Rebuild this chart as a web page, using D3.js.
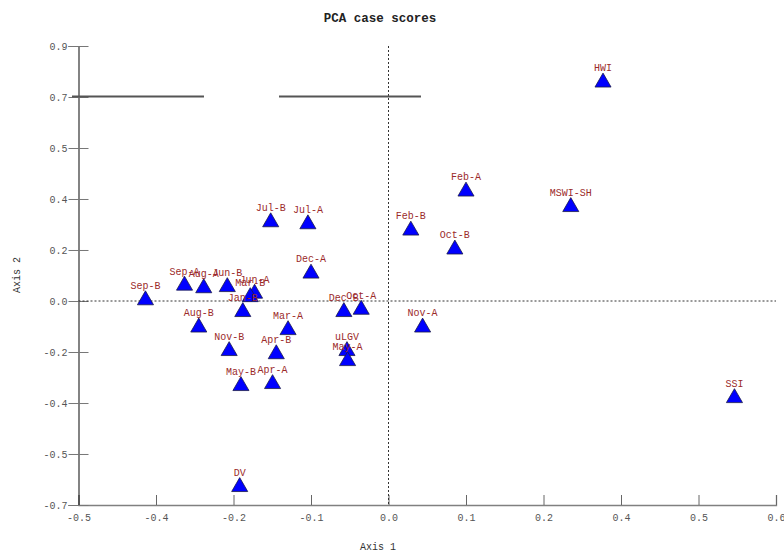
<!DOCTYPE html>
<html>
<head>
<meta charset="utf-8">
<script src="https://cdn.jsdelivr.net/npm/d3@7"></script>
<style>
  body { margin: 0; background: #fff; }
  text { font-family: "Liberation Mono", "DejaVu Sans Mono", monospace; }
</style>
</head>
<body>
<div id="chart"></div>
<script>
// case labels and PCA scores (axis 1, axis 2)
var cases = ["HWI", "SSI", "MSWI-SH", "Feb-A", "Feb-B", "Oct-B", "Nov-A", "Oct-A", "Dec-B",
             "uLGV", "May-A", "Dec-A", "Jul-A", "Jul-B", "Sep-B", "Sep-A", "Aug-A", "Jun-B",
             "Jun-A", "Mar-B", "Jan-B", "Aug-B", "Nov-B", "Mar-A", "Apr-B", "May-B", "Apr-A", "DV"]
var axis1 = [0.346, 0.558, 0.294, 0.125, 0.036, 0.107, 0.055, -0.044, -0.072,
             -0.067, -0.066, -0.125, -0.130, -0.190, -0.392, -0.329, -0.298, -0.260,
             -0.216, -0.223, -0.235, -0.306, -0.257, -0.162, -0.181, -0.238, -0.187, -0.240]
var axis2 = [0.762, -0.338, 0.328, 0.382, 0.246, 0.180, -0.092, -0.030, -0.038,
             -0.174, -0.209, 0.096, 0.268, 0.275, 0.003, 0.054, 0.045, 0.049,
             0.026, 0.014, -0.038, -0.092, -0.174, -0.101, -0.185, -0.296, -0.289, -0.648]

// tick values and the labels the program printed for them
var xTicks = [-0.5, -0.375, -0.25, -0.125, 0, 0.125, 0.25, 0.375, 0.5, 0.625]
var xTickLabels = ["-0.5", "-0.4", "-0.2", "-0.1", "0.0", "0.1", "0.2", "0.4", "0.5", "0.6"]
var yTicks = [-0.7111, -0.5333, -0.3556, -0.1778, 0, 0.1778, 0.3556, 0.5333, 0.7111, 0.8889]
var yTickLabels = ["-0.7", "-0.5", "-0.4", "-0.2", "0.0", "0.2", "0.4", "0.5", "0.7", "0.9"]

// stray horizontal rules near the top (x from, x to, y)
var rules = [[-0.5105, -0.2976, 0.713], [-0.1766, 0.0524, 0.713]]

var W = 784, H = 553
var margin = {top: 46, right: 8, bottom: 48, left: 78.5}

var data = cases.map(function(c, i) { return {name: c, x: axis1[i], y: axis2[i]} })

var svg = d3.select("#chart").append("svg")
    .attr("width", W).attr("height", H)

var x = d3.scaleLinear().domain([-0.5, 0.625]).range([78.5, 776])
var y = d3.scaleLinear().domain([-0.7111, 0.8889]).range([505, 46])

// title
svg.append("text")
    .attr("x", 380).attr("y", 22)
    .attr("text-anchor", "middle")
    .style("font-size", "12.5px").style("font-weight", "bold")
    .style("fill", "#222")
    .text("PCA case scores")

// x axis
var gx = svg.append("g")
    .attr("transform", "translate(0,505)")
    .call(d3.axisBottom(x).tickValues(xTicks).tickSize(-10).tickPadding(9)
          .tickFormat(function(d, i) { return xTickLabels[i] }))
gx.select(".domain").attr("stroke", "#808080").attr("stroke-width", 1.3)
gx.selectAll(".tick line").attr("stroke", "#666")
gx.selectAll(".tick text").style("font-size", "10px").style("fill", "#555")

// y axis
var gy = svg.append("g")
    .attr("transform", "translate(78.5,0)")
    .call(d3.axisLeft(y).tickValues(yTicks).tickSize(10).tickPadding(1)
          .tickFormat(function(d, i) { return yTickLabels[i] }))
gy.select(".domain").attr("stroke", "#333").attr("stroke-width", 1.2)
gy.selectAll(".tick line").attr("x1", 10).attr("stroke", "#777")
gy.selectAll(".tick text").style("font-size", "10px").style("fill", "#555")

// zero lines
svg.append("line")
    .attr("x1", x(0)).attr("x2", x(0)).attr("y1", y(0.8889)).attr("y2", y(-0.7111))
    .attr("stroke", "#333").attr("stroke-dasharray", "2,2")
svg.append("line")
    .attr("x1", x(-0.5)).attr("x2", x(0.625)).attr("y1", y(0)).attr("y2", y(0))
    .attr("stroke", "#333").attr("stroke-dasharray", "2,2")

svg.selectAll(".rule")
    .data(rules).enter().append("line")
    .attr("x1", function(d) { return x(d[0]) })
    .attr("x2", function(d) { return x(d[1]) })
    .attr("y1", function(d) { return y(d[2]) })
    .attr("y2", function(d) { return y(d[2]) })
    .attr("stroke", "#555").attr("stroke-width", 2)

// axis titles
svg.append("text")
    .attr("x", 378).attr("y", 550)
    .attr("text-anchor", "middle")
    .style("font-size", "10px").style("fill", "#333")
    .text("Axis 1")
svg.append("text")
    .attr("transform", "translate(20,275) rotate(-90)")
    .attr("text-anchor", "middle")
    .style("font-size", "10px").style("fill", "#333")
    .text("Axis 2")

// points
var tri = d3.symbol().type(d3.symbolTriangle).size(112)
svg.selectAll(".pt")
    .data(data).enter().append("path")
    .attr("class", "pt")
    .attr("d", tri)
    .attr("transform", function(d) { return "translate(" + x(d.x) + "," + y(d.y) + ")" })
    .attr("fill", "#0000ff")
    .attr("stroke", "#1a1a4a").attr("stroke-width", 0.8)

svg.selectAll(".lbl")
    .data(data).enter().append("text")
    .attr("class", "lbl")
    .attr("x", function(d) { return x(d.x) })
    .attr("y", function(d) { return y(d.y) - 11 })
    .attr("text-anchor", "middle")
    .style("font-size", "10px")
    .style("fill", "#9b2a2a")
    .text(function(d) { return d.name })
</script>
</body>
</html>
